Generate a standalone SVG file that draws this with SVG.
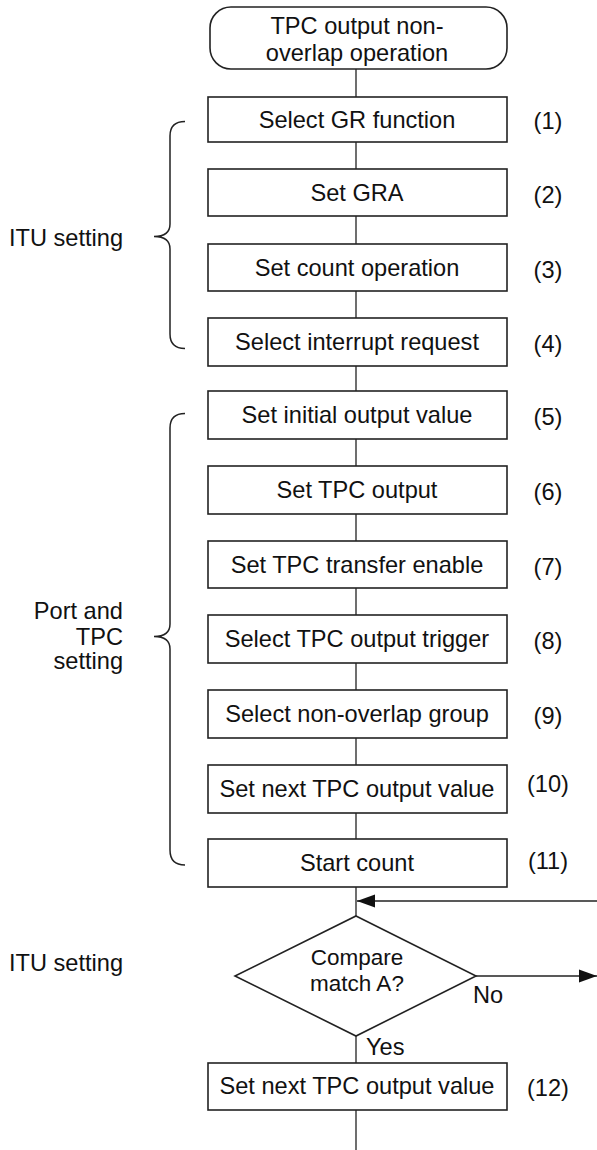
<svg xmlns="http://www.w3.org/2000/svg" width="597" height="1150" viewBox="0 0 597 1150">
<style>
text{font-family:"Liberation Sans",Arial,sans-serif;font-size:23.6px;fill:#111}
.box{fill:#fff;stroke:#222;stroke-width:1.6}
.c{text-anchor:middle}
.lbl{text-anchor:middle}
.ln{fill:none;stroke:#222;stroke-width:1.3}
.br{fill:none;stroke:#222;stroke-width:1.5}
.dt{font-size:22.5px}
</style>
<defs>
<marker id="ah" markerUnits="userSpaceOnUse" markerWidth="20" markerHeight="14" refX="18" refY="7" orient="auto">
<path d="M0,0.5 L18,7 L0,13.5 Z" fill="#111"/>
</marker>
</defs>
<rect width="597" height="1150" fill="#fff"/>
<g id="connectors">
<path class="ln" d="M356,69 V97 M356,142 V169 M356,216 V244 M356,291 V318 M356,366 V391 M356,439 V466 M356,514 V541 M356,588 V615 M356,663 V690 M356,738 V765 M356,813 V839 M356,887 V916 M356,1036 V1063 M356,1110 V1150"/>
<path class="ln" d="M597,901 H357" marker-end="url(#ah)"/>
<path class="ln" d="M476,976 H597" marker-end="url(#ah)"/>
<text x="473" y="1003">No</text>
<text x="366" y="1055">Yes</text>
</g>
<g id="start">
<rect class="box" x="210" y="7" width="297" height="62" rx="21" ry="21"/>
<text class="c" x="357" y="34">TPC output non-</text>
<text class="c" x="357" y="61">overlap operation</text>
</g>
<g id="n1"><rect class="box" x="208" y="97" width="299" height="45"/><text class="c" x="357" y="127.5">Select GR function</text><text class="lbl" x="548" y="129">(1)</text></g>
<g id="n2"><rect class="box" x="208" y="169" width="299" height="47"/><text class="c" x="357" y="200.5">Set GRA</text><text class="lbl" x="548" y="203">(2)</text></g>
<g id="n3"><rect class="box" x="208" y="244" width="299" height="47"/><text class="c" x="357" y="275.5">Set count operation</text><text class="lbl" x="548" y="278">(3)</text></g>
<g id="n4"><rect class="box" x="208" y="318" width="299" height="48"/><text class="c" x="357" y="350">Select interrupt request</text><text class="lbl" x="548" y="352">(4)</text></g>
<g id="n5"><rect class="box" x="208" y="391" width="299" height="48"/><text class="c" x="357" y="423">Set initial output value</text><text class="lbl" x="548" y="425">(5)</text></g>
<g id="n6"><rect class="box" x="208" y="466" width="299" height="48"/><text class="c" x="357" y="498">Set TPC output</text><text class="lbl" x="548" y="500">(6)</text></g>
<g id="n7"><rect class="box" x="208" y="541" width="299" height="47"/><text class="c" x="357" y="572.5">Set TPC transfer enable</text><text class="lbl" x="548" y="575">(7)</text></g>
<g id="n8"><rect class="box" x="208" y="615" width="299" height="48"/><text class="c" x="357" y="647">Select TPC output trigger</text><text class="lbl" x="548" y="649">(8)</text></g>
<g id="n9"><rect class="box" x="208" y="690" width="299" height="48"/><text class="c" x="357" y="722">Select non-overlap group</text><text class="lbl" x="548" y="724">(9)</text></g>
<g id="n10"><rect class="box" x="208" y="765" width="299" height="48"/><text class="c" x="357" y="797">Set next TPC output value</text><text class="lbl" x="548" y="792">(10)</text></g>
<g id="n11"><rect class="box" x="208" y="839" width="299" height="48"/><text class="c" x="357" y="871">Start count</text><text class="lbl" x="548" y="869">(11)</text></g>
<g id="decision"><path class="box" d="M356,916 L476,976 L356,1036 L235,976 Z"/><text class="c dt" x="357" y="965">Compare</text><text class="c dt" x="357" y="991">match A?</text></g>
<g id="n12"><rect class="box" x="208" y="1063" width="299" height="47"/><text class="c" x="357" y="1094">Set next TPC output value</text><text class="lbl" x="548" y="1096">(12)</text></g>
<g id="brace1"><path class="br" d="M185,121.5 Q170,121.5 170,136 V224 Q170,236.5 154,236.5 Q170,236.5 170,249 V334 Q170,348.5 185,348.5"/><text x="9" y="246">ITU setting</text></g>
<g id="brace2"><path class="br" d="M185,413.5 Q170,413.5 170,428 V624 Q170,636.5 154,636.5 Q170,636.5 170,649 V850 Q170,865 185,865"/><text x="123" y="619" text-anchor="end">Port and</text><text x="123" y="645" text-anchor="end">TPC</text><text x="123" y="669" text-anchor="end">setting</text></g>
<g id="label-itu2"><text x="9" y="971">ITU setting</text></g>
</svg>
